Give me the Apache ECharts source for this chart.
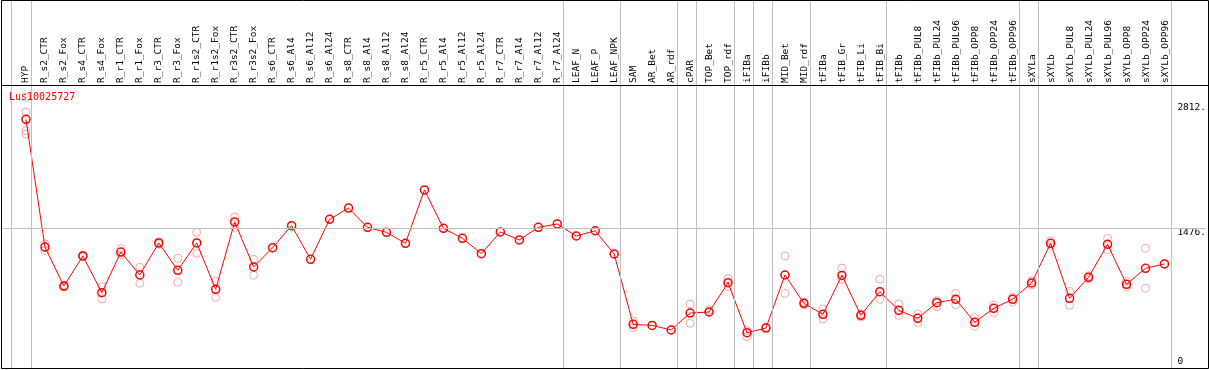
<!DOCTYPE html>
<html>
<head>
<meta charset="utf-8">
<script src="https://cdn.jsdelivr.net/npm/echarts@6/dist/echarts.min.js"></script>
<style>
  html, body { margin: 0; padding: 0; background: #fff; }
  #chart { width: 1209px; height: 370px; }
</style>
</head>
<body>
<div id="chart"></div>
<script>
// sample names, left to right
const categories = [
  'HYP', 'R_s2_CTR', 'R_s2_Fox', 'R_s4_CTR', 'R_s4_Fox', 'R_r1_CTR', 'R_r1_Fox', 'R_r3_CTR', 'R_r3_Fox',
  'R_r1s2_CTR', 'R_r1s2_Fox', 'R_r3s2_CTR', 'R_r3s2_Fox', 'R_s6_CTR', 'R_s6_Al4', 'R_s6_Al12', 'R_s6_Al24',
  'R_s8_CTR', 'R_s8_Al4', 'R_s8_Al12', 'R_s8_Al24', 'R_r5_CTR', 'R_r5_Al4', 'R_r5_Al12', 'R_r5_Al24',
  'R_r7_CTR', 'R_r7_Al4', 'R_r7_Al12', 'R_r7_Al24', 'LEAF_N', 'LEAF_P', 'LEAF_NPK', 'SAM', 'AR_Bet', 'AR_rdf',
  'cPAR', 'TOP_Bet', 'TOP_rdf', 'iFIBa', 'iFIBb', 'MID_Bet', 'MID_rdf', 'tFIBa', 'tFIB_Gr', 'tFIB_Li', 'tFIB_Bi',
  'tFIBb', 'tFIBb_PUL8', 'tFIBb_PUL24', 'tFIBb_PUL96', 'tFIBb_OPP8', 'tFIBb_OPP24', 'tFIBb_OPP96',
  'sXYLa', 'sXYLb', 'sXYLb_PUL8', 'sXYLb_PUL24', 'sXYLb_PUL96', 'sXYLb_OPP8', 'sXYLb_OPP24', 'sXYLb_OPP96'
];

// mean expression per sample
const meanValues = [
  2630, 1274, 860, 1179, 789, 1221, 977, 1317, 1027,
  1317, 825, 1540, 1062, 1267, 1501, 1144, 1568,
  1688, 1483, 1430, 1313, 1880, 1473, 1367, 1203,
  1434, 1349, 1483, 1519, 1391, 1447, 1200, 453, 442, 393,
  573, 584, 895, 364, 414, 977, 676, 559, 973, 549, 800,
  602, 517, 683, 719, 475, 623, 719,
  892, 1313, 729, 952, 1303, 878, 1048, 1094
];

// replicates (null = not shown)
const repUpper = [
  2708, 1306, 870, 1190, 853, 1256, 1059, 1330, 1154,
  1430, 910, 1593, 1144, null, null, null, null,
  null, null, null, null, null, null, null, null,
  null, null, null, null, null, null, null, 488, null, null,
  669, 605, 938, 385, 425, 1179, 690, 616, 1051, 565, 931,
  669, 563, 704, 782, 524, 658, 740,
  915, 1341, 804, 970, 1366, 910, 1260, null
];
const repLower = [
  2509, 1235, 850, 1170, 722, 1193, 889, 1305, 899,
  1207, 740, 1483, 974, null, null, null, null,
  null, null, null, null, null, null, null, null,
  null, null, null, null, null, null, null, 417, null, null,
  464, null, 853, 322, null, 782, 660, 510, 931, 530, 719,
  549, 470, 640, 662, 432, 577, 690,
  870, 1290, 655, 935, 1246, 850, 836, null
];
const hypExtraReps = [2864, 2474];

// group separators sit just after these samples
const groupEnds = [0, 28, 31, 34, 35, 37, 38, 39, 41, 45, 52, 53, 60];

const yTicks = [1476, 2812];
const yGridLine = 1476;

const FONT = 'DejaVu Sans Mono';
const xMin = -1.3158, xMax = 62.2105;
const yMin = -21.2, yMax = 2994.6;

const meanData = meanValues.map((v, i) => [i, v]);
const repData = [];
repUpper.forEach((v, i) => { if (v != null) repData.push([i, v]); });
repLower.forEach((v, i) => { if (v != null) repData.push([i, v]); });
hypExtraReps.forEach(v => repData.push([0, v]));
const sepLines = [-0.8].concat(groupEnds.map(e => e + 0.25));

const chart = echarts.init(document.getElementById('chart'));

const yLabel = {
  inside: true, margin: 29, align: 'left',
  fontSize: 9.5, fontFamily: FONT, color: '#000'
};

const option = {
  animation: false,
  title: {
    text: 'Lus10025727',
    left: 9, top: 92, padding: 0,
    textStyle: { color: '#ff0000', fontSize: 10, fontWeight: 'normal', fontFamily: FONT }
  },
  grid: [
    { left: 1, right: 1, top: 85, bottom: 1 },
    { left: 7, width: 1197, top: 85, bottom: 1 },
    { left: 1, right: 1, top: 0, bottom: 1 }
  ],
  xAxis: [
    { type: 'value', gridIndex: 0, min: xMin, max: xMax, show: false },
    {
      type: 'value', gridIndex: 1, position: 'top', min: -1, max: 62, interval: 1,
      axisLine: { show: false }, axisTick: { show: false }, splitLine: { show: false },
      axisLabel: {
        rotate: 90, margin: 2, fontSize: 9.5, fontFamily: FONT, color: '#000',
        formatter: v => categories[Math.round(v)] || ''
      }
    },
    { type: 'value', gridIndex: 2, min: xMin, max: xMax, show: false }
  ],
  yAxis: [
    {
      type: 'value', gridIndex: 0, position: 'right', min: yMin, max: yMax,
      axisLine: { show: false }, axisTick: { show: false }, splitLine: { show: false },
      axisLabel: Object.assign({}, yLabel, {
        customValues: yTicks, verticalAlign: 'top', formatter: v => v + '.'
      })
    },
    {
      type: 'value', gridIndex: 0, position: 'right', min: yMin, max: yMax,
      axisLine: { show: false }, axisTick: { show: false }, splitLine: { show: false },
      axisLabel: Object.assign({}, yLabel, {
        customValues: [0], verticalAlign: 'bottom', formatter: v => String(v)
      })
    },
    { type: 'value', gridIndex: 1, min: 0, max: 1, show: false },
    { type: 'value', gridIndex: 2, min: 0, max: 1, show: false }
  ],
  graphic: [
    {
      type: 'rect', z: 100,
      shape: { x: 1.5, y: 0.5, width: 1207, height: 368 },
      style: { fill: null, stroke: '#000', lineWidth: 1 }
    },
    {
      type: 'line', z: 100,
      shape: { x1: 1, y1: 85.5, x2: 1209, y2: 85.5 },
      style: { stroke: '#000', lineWidth: 1 }
    }
  ],
  series: [
    {
      name: 'separators', type: 'line', xAxisIndex: 2, yAxisIndex: 3,
      data: [[xMin, -1]], symbol: 'none', lineStyle: { width: 0 }, silent: true, z: 1,
      markLine: {
        silent: true, symbol: 'none', label: { show: false },
        lineStyle: { color: '#c0c0c0', type: 'solid', width: 1 },
        data: sepLines.map(v => ({ xAxis: v }))
      }
    },
    {
      name: 'replicates', type: 'scatter', xAxisIndex: 0, yAxisIndex: 0, z: 2,
      symbol: 'circle', symbolSize: 8,
      itemStyle: { color: 'rgba(0,0,0,0)', borderColor: '#f29494', borderWidth: 1 },
      data: repData
    },
    {
      name: 'mean', type: 'line', xAxisIndex: 0, yAxisIndex: 0, z: 3,
      symbol: 'circle', symbolSize: 8, showSymbol: true,
      itemStyle: { color: 'rgba(0,0,0,0)', borderColor: '#ff0000', borderWidth: 1.5 },
      lineStyle: { color: '#ff0000', width: 1 },
      data: meanData,
      markLine: {
        silent: true, symbol: 'none', label: { show: false },
        lineStyle: { color: '#c0c0c0', type: 'solid', width: 1 },
        data: [{ yAxis: yGridLine }]
      }
    }
  ]
};

chart.setOption(option);
</script>
</body>
</html>
